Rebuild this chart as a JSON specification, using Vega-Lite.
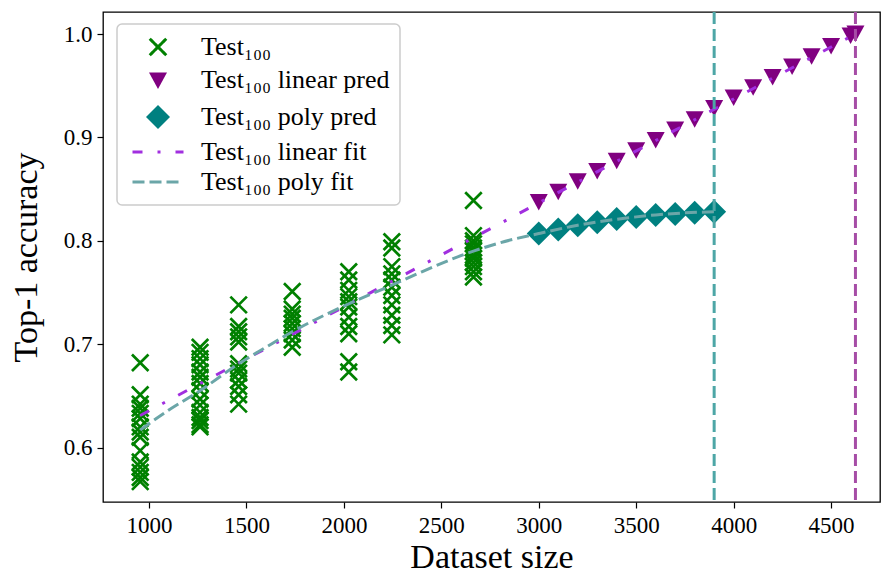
{
  "$schema": "https://vega.github.io/schema/vega-lite/v6.json",
  "width": 777,
  "height": 490,
  "autosize": {"type": "none"},
  "padding": {"left": 103, "top": 12, "right": 3, "bottom": 74},
  "background": "white",
  "datasets": {
    "scatter": [
      {"size": 955, "acc": 0.682, "series": "Test₁₀₀"},
      {"size": 955, "acc": 0.651, "series": "Test₁₀₀"},
      {"size": 955, "acc": 0.642, "series": "Test₁₀₀"},
      {"size": 955, "acc": 0.638, "series": "Test₁₀₀"},
      {"size": 955, "acc": 0.633, "series": "Test₁₀₀"},
      {"size": 955, "acc": 0.628, "series": "Test₁₀₀"},
      {"size": 955, "acc": 0.620, "series": "Test₁₀₀"},
      {"size": 955, "acc": 0.615, "series": "Test₁₀₀"},
      {"size": 955, "acc": 0.610, "series": "Test₁₀₀"},
      {"size": 955, "acc": 0.597, "series": "Test₁₀₀"},
      {"size": 955, "acc": 0.586, "series": "Test₁₀₀"},
      {"size": 955, "acc": 0.581, "series": "Test₁₀₀"},
      {"size": 955, "acc": 0.576, "series": "Test₁₀₀"},
      {"size": 955, "acc": 0.571, "series": "Test₁₀₀"},
      {"size": 955, "acc": 0.567, "series": "Test₁₀₀"},
      {"size": 1262, "acc": 0.697, "series": "Test₁₀₀"},
      {"size": 1262, "acc": 0.692, "series": "Test₁₀₀"},
      {"size": 1262, "acc": 0.686, "series": "Test₁₀₀"},
      {"size": 1262, "acc": 0.680, "series": "Test₁₀₀"},
      {"size": 1262, "acc": 0.673, "series": "Test₁₀₀"},
      {"size": 1262, "acc": 0.668, "series": "Test₁₀₀"},
      {"size": 1262, "acc": 0.662, "series": "Test₁₀₀"},
      {"size": 1262, "acc": 0.655, "series": "Test₁₀₀"},
      {"size": 1262, "acc": 0.647, "series": "Test₁₀₀"},
      {"size": 1262, "acc": 0.641, "series": "Test₁₀₀"},
      {"size": 1262, "acc": 0.634, "series": "Test₁₀₀"},
      {"size": 1262, "acc": 0.629, "series": "Test₁₀₀"},
      {"size": 1262, "acc": 0.626, "series": "Test₁₀₀"},
      {"size": 1262, "acc": 0.622, "series": "Test₁₀₀"},
      {"size": 1262, "acc": 0.620, "series": "Test₁₀₀"},
      {"size": 1460, "acc": 0.738, "series": "Test₁₀₀"},
      {"size": 1460, "acc": 0.717, "series": "Test₁₀₀"},
      {"size": 1460, "acc": 0.712, "series": "Test₁₀₀"},
      {"size": 1460, "acc": 0.707, "series": "Test₁₀₀"},
      {"size": 1460, "acc": 0.702, "series": "Test₁₀₀"},
      {"size": 1460, "acc": 0.681, "series": "Test₁₀₀"},
      {"size": 1460, "acc": 0.676, "series": "Test₁₀₀"},
      {"size": 1460, "acc": 0.672, "series": "Test₁₀₀"},
      {"size": 1460, "acc": 0.665, "series": "Test₁₀₀"},
      {"size": 1460, "acc": 0.659, "series": "Test₁₀₀"},
      {"size": 1460, "acc": 0.651, "series": "Test₁₀₀"},
      {"size": 1460, "acc": 0.642, "series": "Test₁₀₀"},
      {"size": 1735, "acc": 0.751, "series": "Test₁₀₀"},
      {"size": 1735, "acc": 0.734, "series": "Test₁₀₀"},
      {"size": 1735, "acc": 0.729, "series": "Test₁₀₀"},
      {"size": 1735, "acc": 0.725, "series": "Test₁₀₀"},
      {"size": 1735, "acc": 0.720, "series": "Test₁₀₀"},
      {"size": 1735, "acc": 0.715, "series": "Test₁₀₀"},
      {"size": 1735, "acc": 0.710, "series": "Test₁₀₀"},
      {"size": 1735, "acc": 0.704, "series": "Test₁₀₀"},
      {"size": 1735, "acc": 0.697, "series": "Test₁₀₀"},
      {"size": 2025, "acc": 0.770, "series": "Test₁₀₀"},
      {"size": 2025, "acc": 0.762, "series": "Test₁₀₀"},
      {"size": 2025, "acc": 0.752, "series": "Test₁₀₀"},
      {"size": 2025, "acc": 0.746, "series": "Test₁₀₀"},
      {"size": 2025, "acc": 0.741, "series": "Test₁₀₀"},
      {"size": 2025, "acc": 0.736, "series": "Test₁₀₀"},
      {"size": 2025, "acc": 0.726, "series": "Test₁₀₀"},
      {"size": 2025, "acc": 0.717, "series": "Test₁₀₀"},
      {"size": 2025, "acc": 0.710, "series": "Test₁₀₀"},
      {"size": 2025, "acc": 0.683, "series": "Test₁₀₀"},
      {"size": 2025, "acc": 0.673, "series": "Test₁₀₀"},
      {"size": 2246, "acc": 0.799, "series": "Test₁₀₀"},
      {"size": 2246, "acc": 0.793, "series": "Test₁₀₀"},
      {"size": 2246, "acc": 0.775, "series": "Test₁₀₀"},
      {"size": 2246, "acc": 0.768, "series": "Test₁₀₀"},
      {"size": 2246, "acc": 0.762, "series": "Test₁₀₀"},
      {"size": 2246, "acc": 0.755, "series": "Test₁₀₀"},
      {"size": 2246, "acc": 0.747, "series": "Test₁₀₀"},
      {"size": 2246, "acc": 0.738, "series": "Test₁₀₀"},
      {"size": 2246, "acc": 0.728, "series": "Test₁₀₀"},
      {"size": 2246, "acc": 0.718, "series": "Test₁₀₀"},
      {"size": 2246, "acc": 0.709, "series": "Test₁₀₀"},
      {"size": 2665, "acc": 0.839, "series": "Test₁₀₀"},
      {"size": 2665, "acc": 0.805, "series": "Test₁₀₀"},
      {"size": 2665, "acc": 0.800, "series": "Test₁₀₀"},
      {"size": 2665, "acc": 0.797, "series": "Test₁₀₀"},
      {"size": 2665, "acc": 0.793, "series": "Test₁₀₀"},
      {"size": 2665, "acc": 0.790, "series": "Test₁₀₀"},
      {"size": 2665, "acc": 0.786, "series": "Test₁₀₀"},
      {"size": 2665, "acc": 0.783, "series": "Test₁₀₀"},
      {"size": 2665, "acc": 0.779, "series": "Test₁₀₀"},
      {"size": 2665, "acc": 0.775, "series": "Test₁₀₀"},
      {"size": 2665, "acc": 0.770, "series": "Test₁₀₀"},
      {"size": 2665, "acc": 0.765, "series": "Test₁₀₀"},
      {"size": 3000, "acc": 0.838, "series": "Test₁₀₀ linear pred"},
      {"size": 3100, "acc": 0.848, "series": "Test₁₀₀ linear pred"},
      {"size": 3200, "acc": 0.858, "series": "Test₁₀₀ linear pred"},
      {"size": 3300, "acc": 0.868, "series": "Test₁₀₀ linear pred"},
      {"size": 3400, "acc": 0.878, "series": "Test₁₀₀ linear pred"},
      {"size": 3500, "acc": 0.888, "series": "Test₁₀₀ linear pred"},
      {"size": 3600, "acc": 0.898, "series": "Test₁₀₀ linear pred"},
      {"size": 3700, "acc": 0.908, "series": "Test₁₀₀ linear pred"},
      {"size": 3800, "acc": 0.918, "series": "Test₁₀₀ linear pred"},
      {"size": 3900, "acc": 0.929, "series": "Test₁₀₀ linear pred"},
      {"size": 4000, "acc": 0.939, "series": "Test₁₀₀ linear pred"},
      {"size": 4100, "acc": 0.949, "series": "Test₁₀₀ linear pred"},
      {"size": 4200, "acc": 0.959, "series": "Test₁₀₀ linear pred"},
      {"size": 4300, "acc": 0.969, "series": "Test₁₀₀ linear pred"},
      {"size": 4400, "acc": 0.979, "series": "Test₁₀₀ linear pred"},
      {"size": 4500, "acc": 0.989, "series": "Test₁₀₀ linear pred"},
      {"size": 4600, "acc": 0.999, "series": "Test₁₀₀ linear pred"},
      {"size": 4625, "acc": 1.001, "series": "Test₁₀₀ linear pred"},
      {"size": 3000, "acc": 0.807, "series": "Test₁₀₀ poly pred"},
      {"size": 3100, "acc": 0.811, "series": "Test₁₀₀ poly pred"},
      {"size": 3200, "acc": 0.815, "series": "Test₁₀₀ poly pred"},
      {"size": 3300, "acc": 0.818, "series": "Test₁₀₀ poly pred"},
      {"size": 3400, "acc": 0.821, "series": "Test₁₀₀ poly pred"},
      {"size": 3500, "acc": 0.823, "series": "Test₁₀₀ poly pred"},
      {"size": 3600, "acc": 0.825, "series": "Test₁₀₀ poly pred"},
      {"size": 3700, "acc": 0.826, "series": "Test₁₀₀ poly pred"},
      {"size": 3800, "acc": 0.827, "series": "Test₁₀₀ poly pred"},
      {"size": 3900, "acc": 0.828, "series": "Test₁₀₀ poly pred"}
    ],
    "linfit": [
      {"size": 955, "acc": 0.631, "series": "Test₁₀₀ linear fit"},
      {"size": 4625, "acc": 1.0, "series": "Test₁₀₀ linear fit"}
    ],
    "polyfit": [
      {"size": 955, "acc": 0.617, "series": "Test₁₀₀ poly fit"},
      {"size": 1100, "acc": 0.636, "series": "Test₁₀₀ poly fit"},
      {"size": 1262, "acc": 0.655, "series": "Test₁₀₀ poly fit"},
      {"size": 1460, "acc": 0.681, "series": "Test₁₀₀ poly fit"},
      {"size": 1600, "acc": 0.697, "series": "Test₁₀₀ poly fit"},
      {"size": 1735, "acc": 0.712, "series": "Test₁₀₀ poly fit"},
      {"size": 1900, "acc": 0.728, "series": "Test₁₀₀ poly fit"},
      {"size": 2025, "acc": 0.739, "series": "Test₁₀₀ poly fit"},
      {"size": 2246, "acc": 0.757, "series": "Test₁₀₀ poly fit"},
      {"size": 2400, "acc": 0.770, "series": "Test₁₀₀ poly fit"},
      {"size": 2665, "acc": 0.790, "series": "Test₁₀₀ poly fit"},
      {"size": 2800, "acc": 0.798, "series": "Test₁₀₀ poly fit"},
      {"size": 3000, "acc": 0.807, "series": "Test₁₀₀ poly fit"},
      {"size": 3200, "acc": 0.815, "series": "Test₁₀₀ poly fit"},
      {"size": 3450, "acc": 0.822, "series": "Test₁₀₀ poly fit"},
      {"size": 3600, "acc": 0.825, "series": "Test₁₀₀ poly fit"},
      {"size": 3750, "acc": 0.827, "series": "Test₁₀₀ poly fit"},
      {"size": 3900, "acc": 0.828, "series": "Test₁₀₀ poly fit"}
    ],
    "vpoly": [{"size": 3900}],
    "vlin": [{"size": 4625}]
  },
  "layer": [
    {
      "data": {"name": "scatter"},
      "mark": {"type": "point", "size": 225, "strokeWidth": 2.7, "opacity": 1, "fillOpacity": 1, "strokeOpacity": 1},
      "encoding": {
        "x": {"field": "size", "type": "quantitative",
          "scale": {"domain": [764, 4751], "nice": false, "zero": false},
          "axis": {"values": [1000, 1500, 2000, 2500, 3000, 3500, 4000, 4500], "format": "d", "title": "Dataset size", "labelPadding": 6, "titlePadding": 3, "labelFlush": false}},
        "y": {"field": "acc", "type": "quantitative",
          "scale": {"domain": [0.5473, 1.0213], "nice": false, "zero": false},
          "axis": {"values": [0.6, 0.7, 0.8, 0.9, 1.0], "format": ".1f", "title": "Top-1 accuracy", "labelPadding": 5, "titlePadding": 20}},
        "fill": {"field": "series", "type": "nominal",
          "scale": {"domain": ["Test₁₀₀", "Test₁₀₀ linear pred", "Test₁₀₀ poly pred", "Test₁₀₀ linear fit", "Test₁₀₀ poly fit"],
                    "range": ["#008000", "#800080", "#008080", "transparent", "transparent"]}},
        "stroke": {"field": "series", "type": "nominal",
          "scale": {"domain": ["Test₁₀₀", "Test₁₀₀ linear pred", "Test₁₀₀ poly pred", "Test₁₀₀ linear fit", "Test₁₀₀ poly fit"],
                    "range": ["#008000", "transparent", "transparent", "#a12fdf", "#6ba6a8"]}},
        "shape": {"field": "series", "type": "nominal",
          "scale": {"domain": ["Test₁₀₀", "Test₁₀₀ linear pred", "Test₁₀₀ poly pred", "Test₁₀₀ linear fit", "Test₁₀₀ poly fit"],
                    "range": ["M-1.1,-1.1L1.1,1.1M-1.1,1.1L1.1,-1.1", "M-1.2,-1.0L1.2,-1.0L0,1.2Z", "M0,-1.6L1.6,0L0,1.6L-1.6,0Z", "M-3.4,0L3.4,0", "M-3.4,0L3.4,0"]}}
      }
    },
    {
      "data": {"name": "linfit"},
      "mark": {"type": "line", "strokeWidth": 3},
      "encoding": {
        "x": {"field": "size", "type": "quantitative"},
        "y": {"field": "acc", "type": "quantitative"},
        "stroke": {"field": "series", "type": "nominal"},
        "strokeDash": {"field": "series", "type": "nominal",
          "scale": {"domain": ["Test₁₀₀", "Test₁₀₀ linear pred", "Test₁₀₀ poly pred", "Test₁₀₀ linear fit", "Test₁₀₀ poly fit"],
                    "range": [[1, 0], [1, 0], [1, 0], [10, 15, 3, 15], [12, 5]]}}
      }
    },
    {
      "data": {"name": "polyfit"},
      "mark": {"type": "line", "strokeWidth": 3, "interpolate": "monotone"},
      "encoding": {
        "x": {"field": "size", "type": "quantitative"},
        "y": {"field": "acc", "type": "quantitative"},
        "stroke": {"field": "series", "type": "nominal"},
        "strokeDash": {"field": "series", "type": "nominal"}
      }
    },
    {
      "data": {"name": "vpoly"},
      "mark": {"type": "rule", "color": "#4da6a6", "strokeWidth": 3, "strokeDash": [12, 5]},
      "encoding": {"x": {"field": "size", "type": "quantitative"}}
    },
    {
      "data": {"name": "vlin"},
      "mark": {"type": "rule", "color": "#a64da6", "strokeWidth": 3, "strokeDash": [12, 5]},
      "encoding": {"x": {"field": "size", "type": "quantitative"}}
    }
  ],
  "config": {
    "view": {"stroke": "black", "strokeWidth": 1.3},
    "font": "Liberation Serif",
    "axis": {
      "domain": false, "grid": false, "tickColor": "black", "tickSize": 6, "tickWidth": 1.2,
      "labelFont": "Liberation Serif", "labelFontSize": 23, "labelColor": "black",
      "titleFont": "Liberation Serif", "titleFontSize": 34, "titleFontWeight": "normal", "titleColor": "black"
    },
    "legend": {
      "orient": "none", "legendX": 14, "legendY": 12, "title": null,
      "padding": 10, "rowPadding": 4, "symbolSize": 225, "symbolStrokeWidth": 3,
      "symbolOffset": 18, "labelOffset": 30,
      "labelFont": "Liberation Serif", "labelFontSize": 26, "labelColor": "black", "labelLimit": 0,
      "strokeColor": "#cccccc", "fillColor": "rgba(255,255,255,0.8)", "cornerRadius": 5, "strokeWidth": 1.5
    }
  }
}
